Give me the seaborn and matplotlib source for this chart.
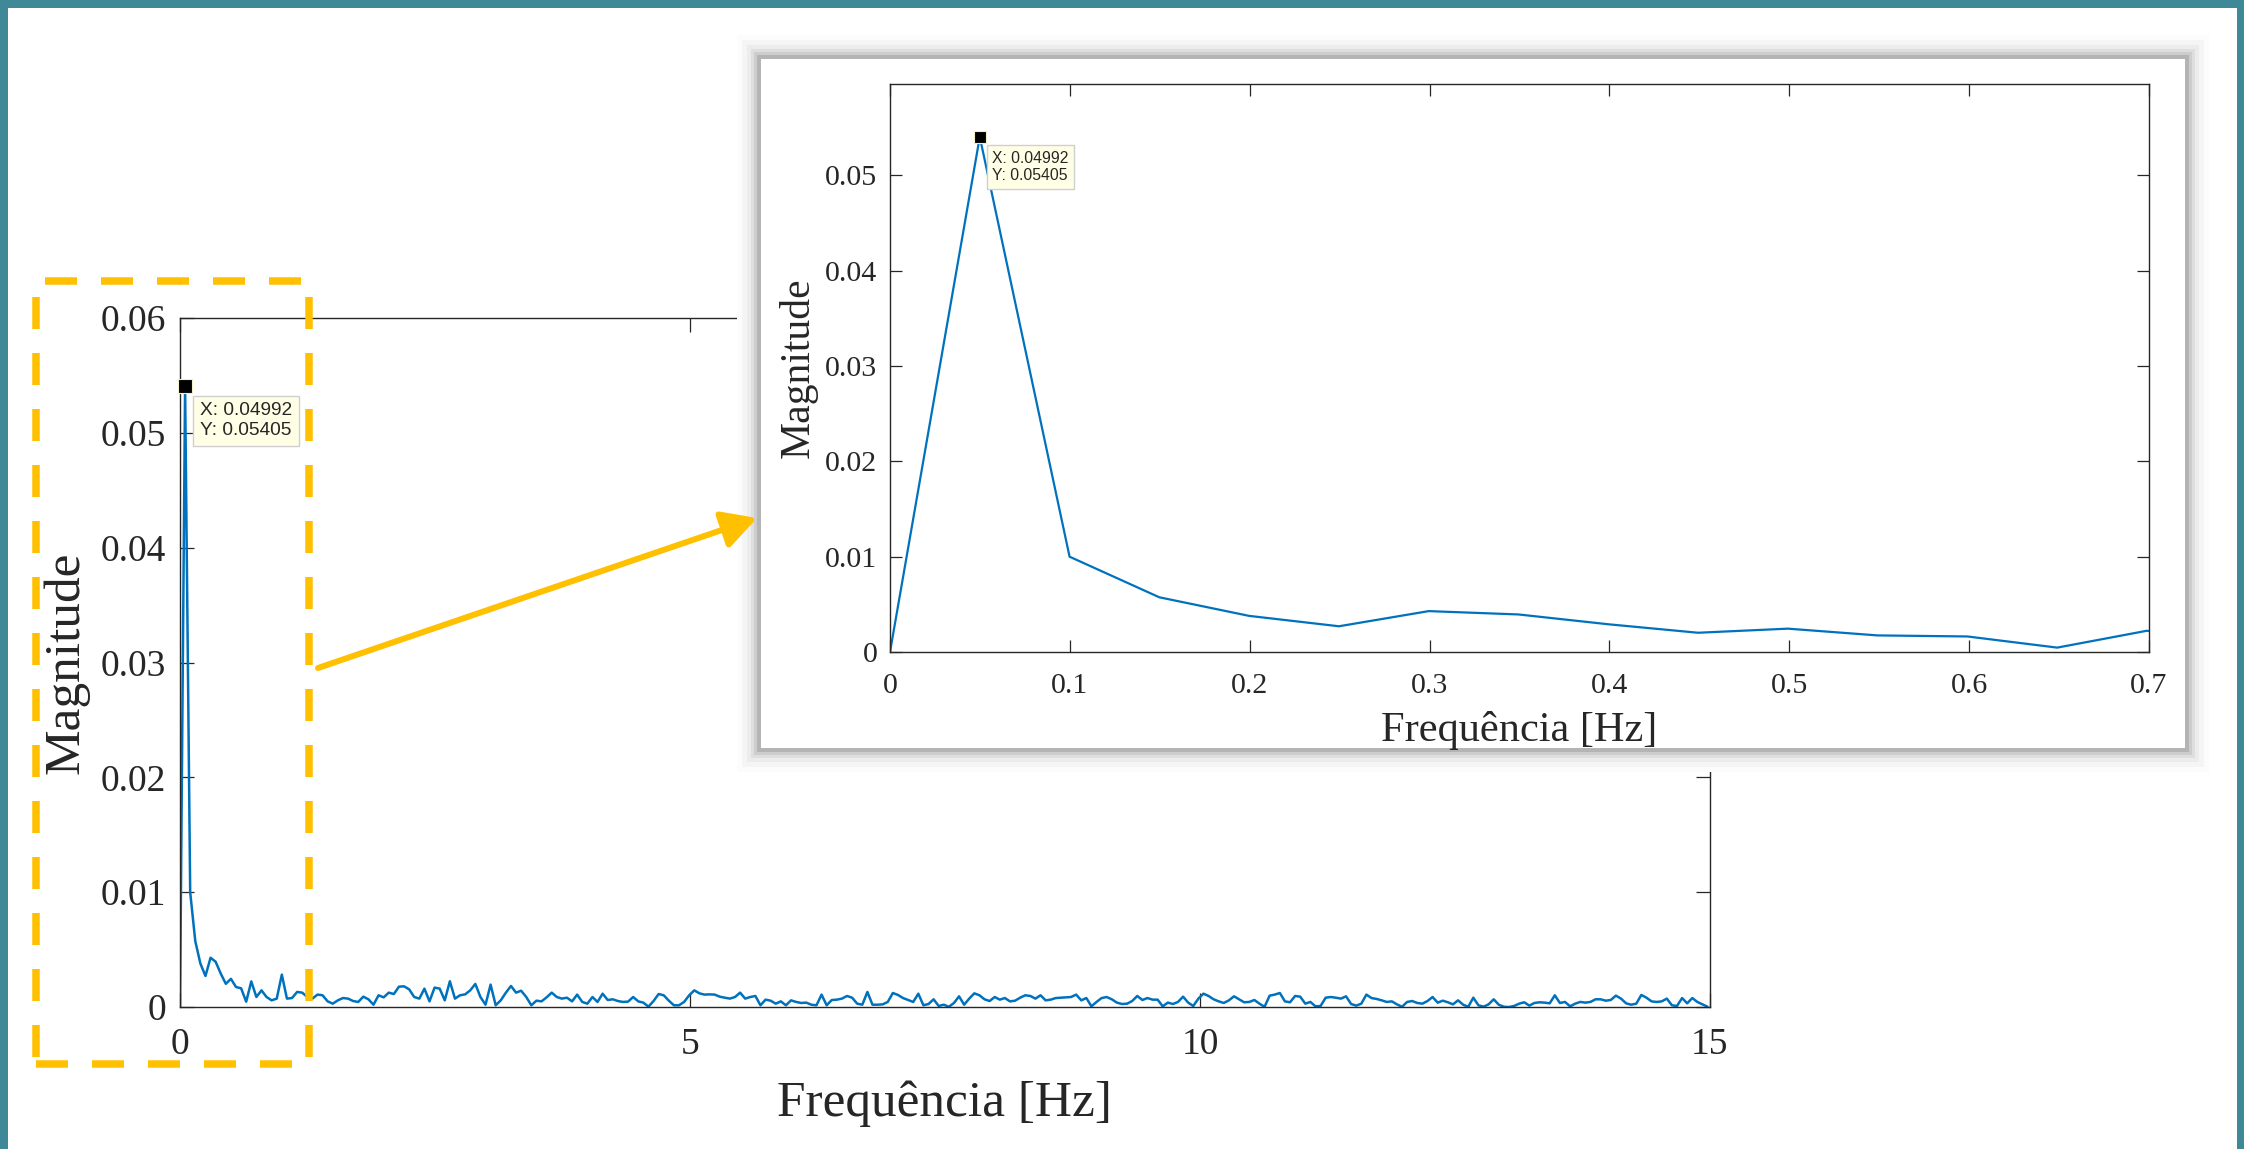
import numpy as np
import pandas as pd
import matplotlib
matplotlib.use("Agg")
import matplotlib.pyplot as plt
import seaborn as sns
from matplotlib.patches import Rectangle, FancyArrowPatch
from matplotlib.lines import Line2D

# ---------------------------------------------------------------- data
freq_step = 0.04992  # FFT bin spacing [Hz]

magnitude = [
    0.0, 0.05405, 0.0100, 0.00574, 0.00379, 0.00270, 0.00429, 0.00394, 0.00291, 0.00202,
    0.00245, 0.00174, 0.00163, 0.00046, 0.00223,
    0.00087, 0.00145, 0.00087, 0.00058, 0.00073, 0.00282, 0.00073, 0.00078, 0.00131, 0.00125,
    0.00087, 0.00073, 0.00108, 0.00102, 0.00049, 0.00029, 0.00058, 0.00078, 0.00073, 0.00052,
    0.00044, 0.00090, 0.00067, 0.00020, 0.00102, 0.00084, 0.00125, 0.00113, 0.00177, 0.00180,
    0.00154, 0.00087, 0.00073, 0.00160, 0.00049, 0.00169, 0.00160, 0.00058, 0.00224, 0.00073,
    0.00102, 0.00110, 0.00145, 0.00201, 0.00087, 0.00020, 0.00195, 0.00015, 0.00058, 0.00125,
    0.00183, 0.00125, 0.00142, 0.00087, 0.00015, 0.00055, 0.00049, 0.00084, 0.00125, 0.00087,
    0.00073, 0.00081, 0.00049, 0.00108, 0.00044, 0.00029, 0.00087, 0.00044, 0.00116, 0.00061,
    0.00067, 0.00052, 0.00044, 0.00047, 0.00087, 0.00049, 0.00038, 0.00003, 0.00052, 0.00113,
    0.00102, 0.00055, 0.00015, 0.00015, 0.00044, 0.00102, 0.00145, 0.00119, 0.00108, 0.00110,
    0.00108, 0.00090, 0.00081, 0.00073, 0.00087, 0.00125, 0.00073, 0.00087, 0.00096, 0.00015,
    0.00064, 0.00055, 0.00029, 0.00049, 0.00015, 0.00058, 0.00044, 0.00035, 0.00038, 0.00020,
    0.00015, 0.00108, 0.00015, 0.00061, 0.00064, 0.00073, 0.00096, 0.00081, 0.00029, 0.00020,
    0.00131, 0.00020, 0.00020, 0.00023, 0.00044, 0.00122, 0.00105, 0.00078, 0.00061, 0.00044,
    0.00116, 0.00015, 0.00026, 0.00067, 0.00009, 0.00020, 0.00002, 0.00035, 0.00093, 0.00020,
    0.00073, 0.00119, 0.00102, 0.00067, 0.00052, 0.00087, 0.00064, 0.00078, 0.00049, 0.00055,
    0.00081, 0.00102, 0.00096, 0.00073, 0.00102, 0.00058, 0.00064, 0.00078, 0.00081, 0.00084,
    0.00087, 0.00108, 0.00058, 0.00078, 0.00006, 0.00044, 0.00078, 0.00087, 0.00067, 0.00038,
    0.00026, 0.00029, 0.00052, 0.00096, 0.00061, 0.00078, 0.00064, 0.00064, 0.00006, 0.00038,
    0.00026, 0.00044, 0.00090, 0.00038, 0.00009, 0.00073, 0.00116, 0.00096, 0.00067, 0.00049,
    0.00035, 0.00058, 0.00093, 0.00067, 0.00041, 0.00044, 0.00061, 0.00029, 0.00002, 0.00099,
    0.00108, 0.00122, 0.00049, 0.00041, 0.00096, 0.00090, 0.00029, 0.00044, 0.00006, 0.00009,
    0.00081, 0.00087, 0.00081, 0.00073, 0.00093, 0.00026, 0.00012, 0.00029, 0.00108, 0.00078,
    0.00070, 0.00058, 0.00044, 0.00049, 0.00023, 0.00002, 0.00044, 0.00052, 0.00035, 0.00029,
    0.00052, 0.00087, 0.00038, 0.00055, 0.00041, 0.00023, 0.00058, 0.00020, 0.00002, 0.00081,
    0.00015, 0.00003, 0.00023, 0.00067, 0.00020, 0.00002, 0.00000, 0.00009, 0.00029, 0.00041,
    0.00012, 0.00035, 0.00041, 0.00038, 0.00032, 0.00102, 0.00035, 0.00044, 0.00006, 0.00029,
    0.00044, 0.00038, 0.00044, 0.00067, 0.00067, 0.00055, 0.00061, 0.00099, 0.00073, 0.00032,
    0.00020, 0.00029, 0.00105, 0.00081, 0.00049, 0.00044, 0.00049, 0.00073, 0.00015, 0.00009,
    0.00078, 0.00032, 0.00078, 0.00044, 0.00023, 0.00002,
]

main_xticks = [0, 5, 10, 15]
main_xtick_labels = ["0", "5", "10", "15"]
main_yticks = [0, 0.01, 0.02, 0.03, 0.04, 0.05, 0.06]
main_ytick_labels = ["0", "0.01", "0.02", "0.03", "0.04", "0.05", "0.06"]

inset_xticks = [0, 0.1, 0.2, 0.3, 0.4, 0.5, 0.6, 0.7]
inset_xtick_labels = ["0", "0.1", "0.2", "0.3", "0.4", "0.5", "0.6", "0.7"]
inset_yticks = [0, 0.01, 0.02, 0.03, 0.04, 0.05]
inset_ytick_labels = ["0", "0.01", "0.02", "0.03", "0.04", "0.05"]

x_label = "Frequência [Hz]"
y_label = "Magnitude"

# ---------------------------------------------------------------- style
W, H, DPI = 2244, 1149, 100
LINE_BLUE = "#0072BD"
AXIS_GREY = "#262626"
GOLD = "#FFC000"
TEAL = "#3f8898"

sns.set_theme(style="white")
plt.rcParams["font.family"] = ["Liberation Serif", "DejaVu Serif"]
plt.rcParams["lines.scale_dashes"] = False

df = pd.DataFrame({"freq": np.arange(len(magnitude)) * freq_step,
                   "mag": magnitude})
peak = df.loc[df["mag"].idxmax()]

fig = plt.figure(figsize=(W / DPI, H / DPI), dpi=DPI)
fig.patch.set_facecolor("white")


def px_box(x0, y0, x1, y1):
    return [x0 / W, 1 - y1 / H, (x1 - x0) / W, (y1 - y0) / H]


def pixel_layer(z):
    a = fig.add_axes([0, 0, 1, 1], zorder=z)
    a.set_xlim(0, W)
    a.set_ylim(H, 0)
    a.axis("off")
    a.patch.set_alpha(0)
    return a


# slide frame
bg = pixel_layer(0)
bg.add_patch(Rectangle((0, 0), 8, H, color=TEAL, lw=0))
bg.add_patch(Rectangle((0, 0), W, 8, color=TEAL, lw=0))
bg.add_patch(Rectangle((W - 7, 0), 7, H, color=TEAL, lw=0))


def style_axes(a, tick_fs, tick_len, xpad, ypad):
    a.tick_params(axis="both", direction="in", length=tick_len, width=0.9,
                  top=True, right=True, bottom=True, left=True,
                  labelsize=tick_fs, color=AXIS_GREY, labelcolor=AXIS_GREY)
    a.tick_params(axis="x", pad=xpad)
    a.tick_params(axis="y", pad=ypad)
    for sp in a.spines.values():
        sp.set_visible(True)
        sp.set_color(AXIS_GREY)
        sp.set_linewidth(1.0)


def data_tip(a, fs, ms, offset):
    a.plot([peak["freq"]], [peak["mag"]], marker="s", ms=ms, mfc="black",
           mec="#f3efc8", mew=0.8, ls="none", zorder=6, clip_on=False)
    a.annotate(f"X: {peak['freq']:.4g}\nY: {peak['mag']:.4g}",
               xy=(peak["freq"], peak["mag"]), xytext=offset,
               textcoords="offset points", ha="left", va="top",
               fontsize=fs, family=["Liberation Sans", "DejaVu Sans"],
               color=AXIS_GREY, zorder=7, annotation_clip=False,
               bbox=dict(boxstyle="square,pad=0.35", fc="#ffffe6",
                         ec="#cfcfcf", lw=1.0))


# ---------------------------------------------------------------- main axes
ax = fig.add_axes(px_box(180, 318, 1710, 1007), zorder=1)
sns.lineplot(data=df, x="freq", y="mag", ax=ax, color=LINE_BLUE,
             linewidth=1.8, estimator=None, sort=False)
ax.set_xlim(0, 15)
ax.set_ylim(0, 0.06)
ax.set_xticks(main_xticks)
ax.set_xticklabels(main_xtick_labels)
ax.set_yticks(main_yticks)
ax.set_yticklabels(main_ytick_labels)
style_axes(ax, 27, 10, 15, 10)
ax.set_xlabel(x_label, fontsize=37, color=AXIS_GREY)
ax.set_ylabel(y_label, fontsize=37, color=AXIS_GREY)
ax.xaxis.label.set_va("center")
ax.yaxis.label.set_va("center")
ax.xaxis.set_label_coords(0.5, -(1104 - 1007) / 689)
ax.yaxis.set_label_coords(-(180 - 66) / 1530, 0.5)
data_tip(ax, 13.8, 9.6, (10.8, -11.5))

# ---------------------------------------------------------------- zoom panel
panel = pixel_layer(2)
px0, py0, px1, py1 = 761, 59, 2185, 748
glow = [(24, "#fcfcfc"), (19, "#f5f5f5"), (14, "#ececec"),
        (10, "#dedede"), (7, "#cdcdcd"), (4, "#b4b4b4")]
for off, col in glow:
    panel.add_patch(Rectangle((px0 - off, py0 - off), px1 - px0 + 2 * off,
                              py1 - py0 + 2 * off, color=col, lw=0))
panel.add_patch(Rectangle((px0, py0), px1 - px0, py1 - py0,
                          color="white", lw=0))

ins = fig.add_axes(px_box(890, 84, 2149, 652), zorder=3)
sns.lineplot(data=df, x="freq", y="mag", ax=ins, color=LINE_BLUE,
             linewidth=1.6, estimator=None, sort=False)
ins.set_xlim(0, 0.7)
ins.set_ylim(0, 0.0596)
ins.set_xticks(inset_xticks)
ins.set_xticklabels(inset_xtick_labels)
ins.set_yticks(inset_yticks)
ins.set_yticklabels(inset_ytick_labels)
style_axes(ins, 21.5, 8.5, 15, 9)
ins.set_xlabel(x_label, fontsize=30.5, color=AXIS_GREY)
ins.set_ylabel(y_label, fontsize=30, color=AXIS_GREY)
ins.xaxis.label.set_va("center")
ins.yaxis.label.set_va("center")
ins.xaxis.set_label_coords(0.5, -(731 - 652) / 568)
ins.yaxis.set_label_coords(-(890 - 798) / 1259, 0.5)
data_tip(ins, 11.3, 8.0, (9, -10))

# ---------------------------------------------------------------- highlight + arrow
top = pixel_layer(4)
dash_lw = 7.5 * 72 / DPI
dash = (0, (32 * 72 / DPI, 24 * 72 / DPI))
for (xa, ya), (xb, yb) in [((45, 280.5), (310, 280.5)),
                           ((36.5, 297), (36.5, 1064)),
                           ((309.5, 297), (309.5, 1064)),
                           ((36, 1064), (300, 1064))]:
    top.add_line(Line2D([xa, xb], [ya, yb], color=GOLD, lw=dash_lw,
                        linestyle=dash, solid_capstyle="butt",
                        dash_capstyle="butt"))

top.add_patch(FancyArrowPatch((318, 668), (757, 518),
                              arrowstyle="-|>,head_length=0.55,head_width=0.3",
                              mutation_scale=38, color=GOLD,
                              lw=6.0 * 72 / DPI, shrinkA=0, shrinkB=0))

fig.savefig("out.png", dpi=DPI, facecolor="white")
